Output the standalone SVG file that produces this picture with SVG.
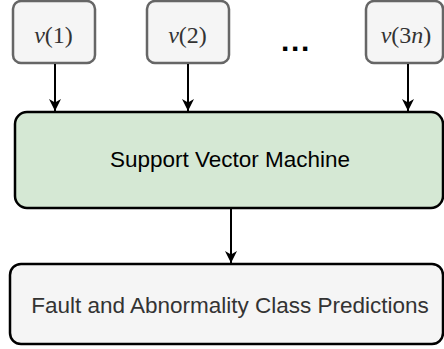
<svg xmlns="http://www.w3.org/2000/svg" width="444" height="349" viewBox="0 0 444 349">
  <style>
    .input rect { fill: #f5f5f5; stroke: #666666; stroke-width: 2.5; }
    .math { font-family: "Liberation Serif", "DejaVu Serif", serif; font-size: 24px; fill: #333333; text-anchor: middle; }
    .math .it { font-style: italic; }
    .label { font-family: "Liberation Sans", Arial, sans-serif; font-size: 22.5px; text-anchor: middle; }
    .edge { stroke: #000000; stroke-width: 2; fill: none; }
  </style>
  <defs>
    <marker id="arrow" viewBox="0 0 12 12" refX="12" refY="6" markerWidth="12" markerHeight="12" markerUnits="userSpaceOnUse" orient="auto">
      <path d="M0,0 L12,6 L0,12 L3.5,6 Z" fill="#000000"/>
    </marker>
  </defs>
  <rect width="444" height="349" fill="#ffffff"/>

  <!-- input feature nodes -->
  <g id="v1" class="input">
    <rect x="13" y="1" width="82" height="62" rx="8"/>
    <text class="math" x="53.5" y="43"><tspan class="it">v</tspan>(1)</text>
  </g>
  <g id="v2" class="input">
    <rect x="147" y="1" width="82" height="62" rx="8"/>
    <text class="math" x="187.5" y="43"><tspan class="it">v</tspan>(2)</text>
  </g>
  <g id="ellipsis">
    <text x="296" y="51" font-family="Liberation Sans, Arial, sans-serif" font-size="30" font-weight="bold" letter-spacing="1.7" text-anchor="middle" fill="#000000">...</text>
  </g>
  <g id="v3n" class="input">
    <rect x="366" y="1" width="77" height="62" rx="8"/>
    <text class="math" x="406" y="43"><tspan class="it">v</tspan>(3<tspan class="it">n</tspan>)</text>
  </g>

  <!-- classifier -->
  <g id="svm">
    <rect x="15" y="112" width="428" height="96" rx="12" fill="#d5e8d4" stroke="#000000" stroke-width="2.5"/>
    <text class="label" x="230" y="167" fill="#000000">Support Vector Machine</text>
  </g>

  <!-- output -->
  <g id="predictions">
    <rect x="10" y="264" width="433" height="80" rx="11" fill="#f5f5f5" stroke="#000000" stroke-width="2.5"/>
    <text class="label" x="230" y="313" fill="#333333">Fault and Abnormality Class Predictions</text>
  </g>

  <!-- connectors -->
  <g id="edges">
    <path class="edge" d="M55,64 L55,111" marker-end="url(#arrow)"/>
    <path class="edge" d="M188,64 L188,111" marker-end="url(#arrow)"/>
    <path class="edge" d="M408,64 L408,111" marker-end="url(#arrow)"/>
    <path class="edge" d="M231,209 L231,263" marker-end="url(#arrow)"/>
  </g>
</svg>
